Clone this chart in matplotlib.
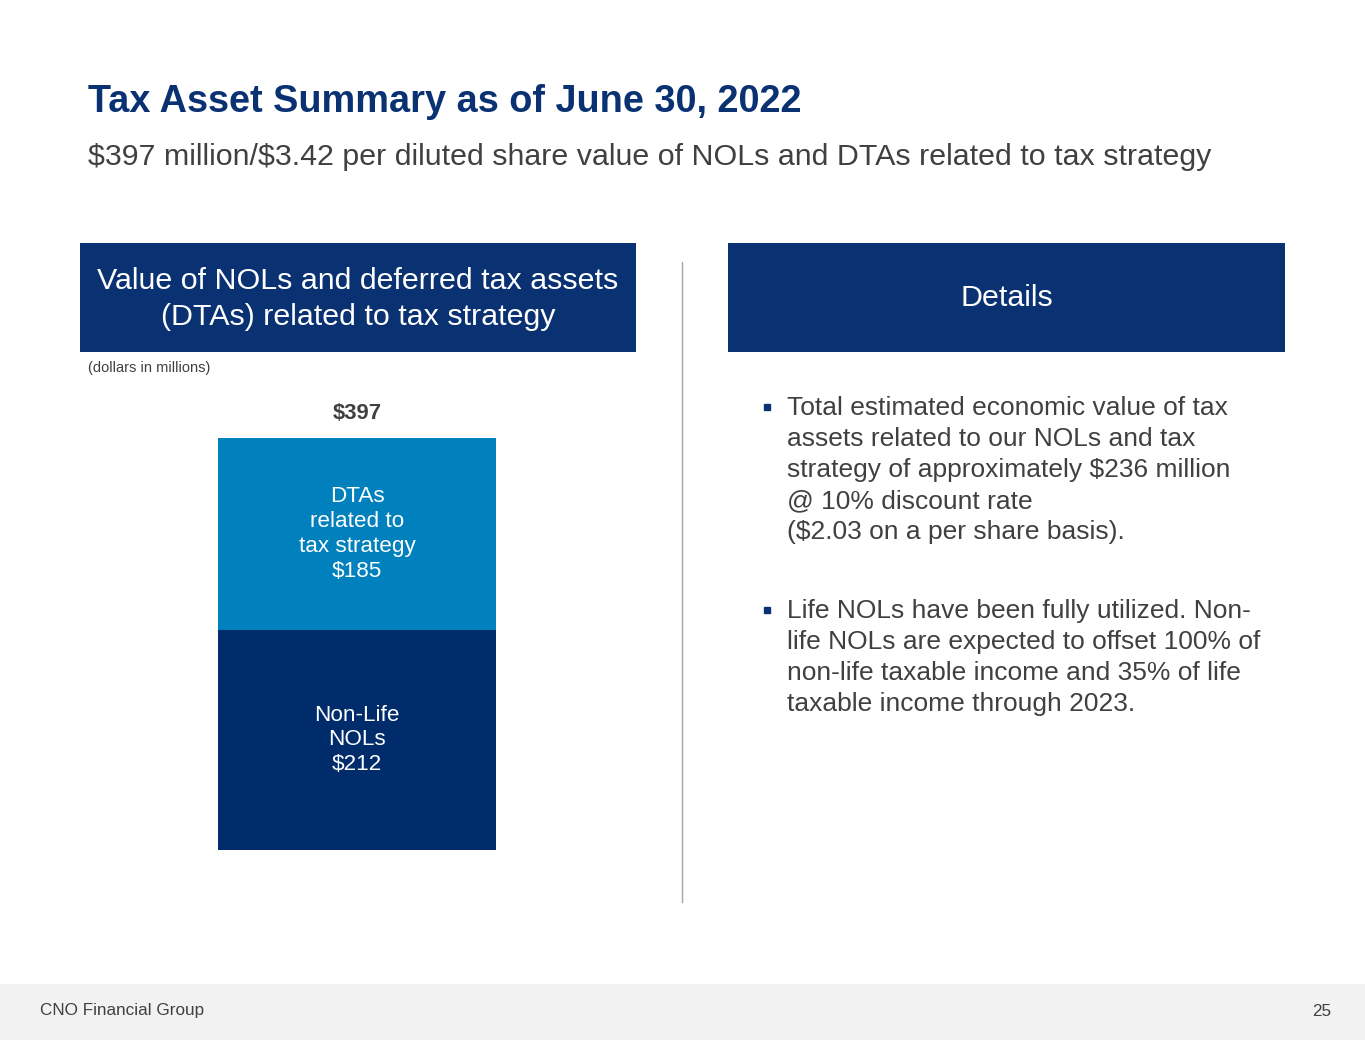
import matplotlib
matplotlib.use("Agg")
import matplotlib.pyplot as plt
from matplotlib.patches import Rectangle

plt.rcParams["font.family"] = ["Liberation Sans", "DejaVu Sans"]
plt.rcParams["text.parse_math"] = False

# ===== DATA =====
segments = ["Non-Life\nNOLs", "DTAs\nrelated to\ntax strategy"]
values = [212, 185]
seg_colors = ["#002C6C", "#0080BC"]
total = sum(values)

title = "Tax Asset Summary as of June 30, 2022"
subtitle = "$397 million/$3.42 per diluted share value of NOLs and DTAs related to tax strategy"
left_header = ["Value of NOLs and deferred tax assets", "(DTAs) related to tax strategy"]
right_header = "Details"
bullets = [
    ["Total estimated economic value of tax",
     "assets related to our NOLs and tax",
     "strategy of approximately $236 million",
     "@ 10% discount rate",
     "($2.03 on a per share basis)."],
    ["Life NOLs have been fully utilized. Non-",
     "life NOLs are expected to offset 100% of",
     "non-life taxable income and 35% of life",
     "taxable income through 2023."],
]
footer_left = "CNO Financial Group"
footer_right = "25"

NAVY = "#0A3172"
GREY = "#404040"
W, H = 1365, 1055

fig = plt.figure(figsize=(W / 100, H / 100), dpi=100)
fig.patch.set_facecolor("white")

# layout axes in pixel coords
lay = fig.add_axes([0, 0, 1, 1])
lay.set_xlim(0, W)
lay.set_ylim(H, 0)
lay.axis("off")

lay.text(88, 102, title, fontsize=27.3, fontweight="bold", color=NAVY, va="center")
lay.text(88, 157, subtitle, fontsize=21.9, color=GREY, va="center")

lay.add_patch(Rectangle((80, 243), 556, 109, color=NAVY, lw=0))
for i, line in enumerate(left_header):
    lay.text(358, 281 + i * 36, line, fontsize=21.9, color="white",
             ha="center", va="center")
lay.add_patch(Rectangle((728, 243), 557, 109, color=NAVY, lw=0))
lay.text(1007, 298, right_header, fontsize=21.9, color="white", ha="center", va="center")

lay.text(88, 368, "(dollars in millions)", fontsize=10.5, color=GREY, va="center")

lay.plot([682, 682], [262, 902], color="#A6A6A6", lw=1)

# bullets
bullet_tops = [408, 611]
for top, lines in zip(bullet_tops, bullets):
    lay.plot(767, top - 1, marker="s", ms=5, color=NAVY)
    for i, line in enumerate(lines):
        lay.text(787, top + i * 31, line, fontsize=19, color=GREY, va="center")

# footer
lay.add_patch(Rectangle((0, 984), W, 56, color="#F2F2F2", lw=0))
lay.text(40, 1011, footer_left, fontsize=12.3, color=GREY, va="center")
lay.text(1331, 1011, footer_right, fontsize=12.3, color=GREY, va="center", ha="right")

# stacked bar
ax = fig.add_axes([218 / W, (H - 850) / H, (496 - 218) / W, 412 / H])
ax.set_xlim(-0.5, 0.5)
ax.set_ylim(0, total)
ax.axis("off")
bottom = 0
for name, v, c in zip(segments, values, seg_colors):
    ax.bar(0, v, width=1, bottom=bottom, color=c, lw=0)
    ax.text(0, bottom + v / 2, f"{name}\n${v}", ha="center", va="center",
            fontsize=16.2, color="white", linespacing=1.24)
    bottom += v
ax.annotate(f"${total}", (0, total), xytext=(0, 18), textcoords="offset points",
            ha="center", va="center", fontsize=15.8, fontweight="bold",
            color=GREY, annotation_clip=False)

fig.savefig("out.png", dpi=100, facecolor="white")
